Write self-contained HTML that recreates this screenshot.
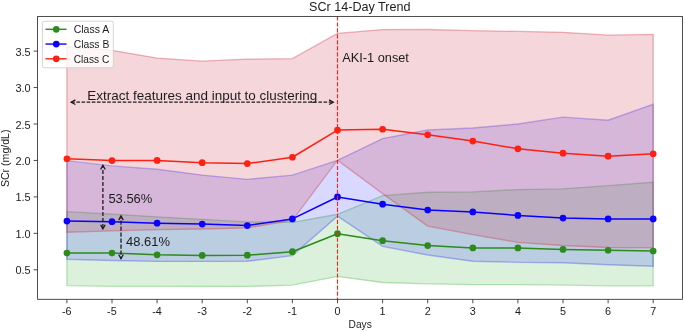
<!DOCTYPE html>
<html><head><meta charset="utf-8"><title>SCr 14-Day Trend</title>
<style>
html,body{margin:0;padding:0;background:#fff;}
body{width:685px;height:332px;overflow:hidden;}
svg{display:block;will-change:transform;}
text{font-family:"Liberation Sans",sans-serif;fill:#1c1c1c;}
</style></head><body>
<svg width="685" height="332" viewBox="0 0 685 332">
<rect x="0" y="0" width="685" height="332" fill="#ffffff"/>

<polygon points="66.90,211.63 112.00,214.03 157.10,216.80 202.20,219.28 247.30,221.90 292.40,222.27 337.50,214.25 382.60,195.66 427.70,192.23 472.80,191.94 517.90,189.61 563.00,188.81 608.10,185.67 653.20,182.32 653.20,285.84 608.10,285.84 563.00,285.11 517.90,284.67 472.80,284.67 427.70,283.87 382.60,282.48 337.50,276.43 292.40,285.11 247.30,286.42 202.20,286.49 157.10,286.35 112.00,286.35 66.90,285.62" fill="rgb(20,160,15)" fill-opacity="0.15" stroke="rgb(20,160,15)" stroke-opacity="0.28" stroke-width="1.3"/>
<polygon points="66.90,160.67 112.00,165.92 157.10,169.20 202.20,175.10 247.30,179.33 292.40,175.18 337.50,160.30 382.60,138.58 427.70,129.98 472.80,127.94 517.90,124.00 563.00,117.15 608.10,120.21 653.20,104.32 653.20,266.30 608.10,264.70 563.00,262.73 517.90,262.36 472.80,261.20 427.70,255.00 382.60,246.33 337.50,216.22 292.40,255.58 247.30,261.27 202.20,261.42 157.10,261.42 112.00,260.47 66.90,259.23" fill="rgb(0,0,255)" fill-opacity="0.15" stroke="rgb(0,0,255)" stroke-opacity="0.26" stroke-width="1.4"/>
<polygon points="66.90,46.73 112.00,50.37 157.10,58.03 202.20,61.16 247.30,59.12 292.40,58.68 337.50,33.46 382.60,29.59 427.70,29.52 472.80,30.69 517.90,31.42 563.00,32.29 608.10,35.21 653.20,34.41 653.20,247.93 608.10,247.49 563.00,245.52 517.90,242.39 472.80,234.59 427.70,226.06 382.60,193.62 337.50,160.23 292.40,220.37 247.30,227.88 202.20,228.98 157.10,229.70 112.00,230.80 66.90,232.26" fill="rgb(205,50,70)" fill-opacity="0.2" stroke="rgb(205,50,70)" stroke-opacity="0.36" stroke-width="1.3"/>
<polyline points="66.90,253.03 112.00,253.03 157.10,254.86 202.20,255.44 247.30,255.22 292.40,251.72 337.50,233.71 382.60,240.64 427.70,245.60 472.80,247.93 517.90,247.93 563.00,249.46 608.10,250.26 653.20,250.99" fill="none" stroke="#2C8B1C" stroke-width="1.5" stroke-linejoin="round"/>
<circle cx="66.90" cy="253.03" r="3.35" fill="#2C8B1C"/><circle cx="112.00" cy="253.03" r="3.35" fill="#2C8B1C"/><circle cx="157.10" cy="254.86" r="3.35" fill="#2C8B1C"/><circle cx="202.20" cy="255.44" r="3.35" fill="#2C8B1C"/><circle cx="247.30" cy="255.22" r="3.35" fill="#2C8B1C"/><circle cx="292.40" cy="251.72" r="3.35" fill="#2C8B1C"/><circle cx="337.50" cy="233.71" r="3.35" fill="#2C8B1C"/><circle cx="382.60" cy="240.64" r="3.35" fill="#2C8B1C"/><circle cx="427.70" cy="245.60" r="3.35" fill="#2C8B1C"/><circle cx="472.80" cy="247.93" r="3.35" fill="#2C8B1C"/><circle cx="517.90" cy="247.93" r="3.35" fill="#2C8B1C"/><circle cx="563.00" cy="249.46" r="3.35" fill="#2C8B1C"/><circle cx="608.10" cy="250.26" r="3.35" fill="#2C8B1C"/><circle cx="653.20" cy="250.99" r="3.35" fill="#2C8B1C"/>
<polyline points="66.90,221.10 112.00,221.69 157.10,223.22 202.20,224.09 247.30,225.55 292.40,218.92 337.50,196.97 382.60,204.19 427.70,210.02 472.80,211.92 517.90,215.42 563.00,218.11 608.10,218.92 653.20,218.92" fill="none" stroke="#0A00FF" stroke-width="1.5" stroke-linejoin="round"/>
<circle cx="66.90" cy="221.10" r="3.35" fill="#0A00FF"/><circle cx="112.00" cy="221.69" r="3.35" fill="#0A00FF"/><circle cx="157.10" cy="223.22" r="3.35" fill="#0A00FF"/><circle cx="202.20" cy="224.09" r="3.35" fill="#0A00FF"/><circle cx="247.30" cy="225.55" r="3.35" fill="#0A00FF"/><circle cx="292.40" cy="218.92" r="3.35" fill="#0A00FF"/><circle cx="337.50" cy="196.97" r="3.35" fill="#0A00FF"/><circle cx="382.60" cy="204.19" r="3.35" fill="#0A00FF"/><circle cx="427.70" cy="210.02" r="3.35" fill="#0A00FF"/><circle cx="472.80" cy="211.92" r="3.35" fill="#0A00FF"/><circle cx="517.90" cy="215.42" r="3.35" fill="#0A00FF"/><circle cx="563.00" cy="218.11" r="3.35" fill="#0A00FF"/><circle cx="608.10" cy="218.92" r="3.35" fill="#0A00FF"/><circle cx="653.20" cy="218.92" r="3.35" fill="#0A00FF"/>
<polyline points="66.90,158.77 112.00,160.60 157.10,160.45 202.20,162.71 247.30,163.58 292.40,157.24 337.50,130.12 382.60,129.25 427.70,134.79 472.80,141.06 517.90,148.79 563.00,153.16 608.10,156.15 653.20,153.82" fill="none" stroke="#FE2012" stroke-width="1.5" stroke-linejoin="round"/>
<circle cx="66.90" cy="158.77" r="3.35" fill="#FE2012"/><circle cx="112.00" cy="160.60" r="3.35" fill="#FE2012"/><circle cx="157.10" cy="160.45" r="3.35" fill="#FE2012"/><circle cx="202.20" cy="162.71" r="3.35" fill="#FE2012"/><circle cx="247.30" cy="163.58" r="3.35" fill="#FE2012"/><circle cx="292.40" cy="157.24" r="3.35" fill="#FE2012"/><circle cx="337.50" cy="130.12" r="3.35" fill="#FE2012"/><circle cx="382.60" cy="129.25" r="3.35" fill="#FE2012"/><circle cx="427.70" cy="134.79" r="3.35" fill="#FE2012"/><circle cx="472.80" cy="141.06" r="3.35" fill="#FE2012"/><circle cx="517.90" cy="148.79" r="3.35" fill="#FE2012"/><circle cx="563.00" cy="153.16" r="3.35" fill="#FE2012"/><circle cx="608.10" cy="156.15" r="3.35" fill="#FE2012"/><circle cx="653.20" cy="153.82" r="3.35" fill="#FE2012"/>
<line x1="337.5" y1="16.4" x2="337.5" y2="299.3" stroke="#FE2012" stroke-width="1.1" stroke-dasharray="4.17,1.81"/>
<line x1="71.2" y1="102.2" x2="333.3" y2="102.2" stroke="#1c1c1c" stroke-width="1.3" stroke-dasharray="3.6,1.55"/><path d="M75.4,99.9 L71.2,102.2 L75.4,104.5" fill="none" stroke="#1c1c1c" stroke-width="1.3" stroke-linejoin="miter"/><path d="M329.1,99.9 L333.3,102.2 L329.1,104.5" fill="none" stroke="#1c1c1c" stroke-width="1.3" stroke-linejoin="miter"/>
<line x1="102.9" y1="165.3" x2="102.9" y2="228.9" stroke="#1c1c1c" stroke-width="1.3" stroke-dasharray="4.2,1.8" stroke-dashoffset="1.4"/><path d="M100.60000000000001,169.5 L102.9,165.3 L105.2,169.5" fill="none" stroke="#1c1c1c" stroke-width="1.3" stroke-linejoin="miter"/><path d="M100.60000000000001,224.70000000000002 L102.9,228.9 L105.2,224.70000000000002" fill="none" stroke="#1c1c1c" stroke-width="1.3" stroke-linejoin="miter"/>
<line x1="121.0" y1="215.9" x2="121.0" y2="258.7" stroke="#1c1c1c" stroke-width="1.3" stroke-dasharray="4.2,1.8" stroke-dashoffset="1.4"/><path d="M118.7,220.1 L121.0,215.9 L123.3,220.1" fill="none" stroke="#1c1c1c" stroke-width="1.3" stroke-linejoin="miter"/><path d="M118.7,254.5 L121.0,258.7 L123.3,254.5" fill="none" stroke="#1c1c1c" stroke-width="1.3" stroke-linejoin="miter"/>
<text x="87.3" y="99.6" font-size="12.1" text-anchor="start" textLength="230" lengthAdjust="spacingAndGlyphs">Extract features and input to clustering</text>
<text x="342.3" y="61.7" font-size="12.1" text-anchor="start" textLength="66.6" lengthAdjust="spacingAndGlyphs">AKI-1 onset</text>
<text x="108.4" y="202.6" font-size="12.1" text-anchor="start" textLength="43.9" lengthAdjust="spacingAndGlyphs">53.56%</text>
<text x="126.1" y="246.0" font-size="12.1" text-anchor="start" textLength="43.9" lengthAdjust="spacingAndGlyphs">48.61%</text>
<text x="359.8" y="10.6" font-size="12.6" text-anchor="middle" textLength="101.5" lengthAdjust="spacingAndGlyphs">SCr 14-Day Trend</text>
<rect x="37.6" y="16.4" width="644.9" height="282.90000000000003" fill="none" stroke="#262626" stroke-width="0.82"/>
<line x1="66.90" y1="299.3" x2="66.90" y2="303.3" stroke="#262626" stroke-width="0.82"/>
<text x="66.80" y="314.8" font-size="10.8" text-anchor="middle">-6</text>
<line x1="112.00" y1="299.3" x2="112.00" y2="303.3" stroke="#262626" stroke-width="0.82"/>
<text x="111.90" y="314.8" font-size="10.8" text-anchor="middle">-5</text>
<line x1="157.10" y1="299.3" x2="157.10" y2="303.3" stroke="#262626" stroke-width="0.82"/>
<text x="157.00" y="314.8" font-size="10.8" text-anchor="middle">-4</text>
<line x1="202.20" y1="299.3" x2="202.20" y2="303.3" stroke="#262626" stroke-width="0.82"/>
<text x="202.10" y="314.8" font-size="10.8" text-anchor="middle">-3</text>
<line x1="247.30" y1="299.3" x2="247.30" y2="303.3" stroke="#262626" stroke-width="0.82"/>
<text x="247.20" y="314.8" font-size="10.8" text-anchor="middle">-2</text>
<line x1="292.40" y1="299.3" x2="292.40" y2="303.3" stroke="#262626" stroke-width="0.82"/>
<text x="292.30" y="314.8" font-size="10.8" text-anchor="middle">-1</text>
<line x1="337.50" y1="299.3" x2="337.50" y2="303.3" stroke="#262626" stroke-width="0.82"/>
<text x="337.50" y="314.8" font-size="10.8" text-anchor="middle">0</text>
<line x1="382.60" y1="299.3" x2="382.60" y2="303.3" stroke="#262626" stroke-width="0.82"/>
<text x="382.60" y="314.8" font-size="10.8" text-anchor="middle">1</text>
<line x1="427.70" y1="299.3" x2="427.70" y2="303.3" stroke="#262626" stroke-width="0.82"/>
<text x="427.70" y="314.8" font-size="10.8" text-anchor="middle">2</text>
<line x1="472.80" y1="299.3" x2="472.80" y2="303.3" stroke="#262626" stroke-width="0.82"/>
<text x="472.80" y="314.8" font-size="10.8" text-anchor="middle">3</text>
<line x1="517.90" y1="299.3" x2="517.90" y2="303.3" stroke="#262626" stroke-width="0.82"/>
<text x="517.90" y="314.8" font-size="10.8" text-anchor="middle">4</text>
<line x1="563.00" y1="299.3" x2="563.00" y2="303.3" stroke="#262626" stroke-width="0.82"/>
<text x="563.00" y="314.8" font-size="10.8" text-anchor="middle">5</text>
<line x1="608.10" y1="299.3" x2="608.10" y2="303.3" stroke="#262626" stroke-width="0.82"/>
<text x="608.10" y="314.8" font-size="10.8" text-anchor="middle">6</text>
<line x1="653.20" y1="299.3" x2="653.20" y2="303.3" stroke="#262626" stroke-width="0.82"/>
<text x="653.20" y="314.8" font-size="10.8" text-anchor="middle">7</text>
<line x1="33.6" y1="269.80" x2="37.6" y2="269.80" stroke="#262626" stroke-width="0.82"/>
<text x="30.7" y="274.30" font-size="10.8" text-anchor="end" textLength="15.2" lengthAdjust="spacingAndGlyphs">0.5</text>
<line x1="33.6" y1="233.35" x2="37.6" y2="233.35" stroke="#262626" stroke-width="0.82"/>
<text x="30.7" y="237.85" font-size="10.8" text-anchor="end" textLength="15.2" lengthAdjust="spacingAndGlyphs">1.0</text>
<line x1="33.6" y1="196.90" x2="37.6" y2="196.90" stroke="#262626" stroke-width="0.82"/>
<text x="30.7" y="201.40" font-size="10.8" text-anchor="end" textLength="15.2" lengthAdjust="spacingAndGlyphs">1.5</text>
<line x1="33.6" y1="160.45" x2="37.6" y2="160.45" stroke="#262626" stroke-width="0.82"/>
<text x="30.7" y="164.95" font-size="10.8" text-anchor="end" textLength="15.2" lengthAdjust="spacingAndGlyphs">2.0</text>
<line x1="33.6" y1="124.00" x2="37.6" y2="124.00" stroke="#262626" stroke-width="0.82"/>
<text x="30.7" y="128.50" font-size="10.8" text-anchor="end" textLength="15.2" lengthAdjust="spacingAndGlyphs">2.5</text>
<line x1="33.6" y1="87.55" x2="37.6" y2="87.55" stroke="#262626" stroke-width="0.82"/>
<text x="30.7" y="92.05" font-size="10.8" text-anchor="end" textLength="15.2" lengthAdjust="spacingAndGlyphs">3.0</text>
<line x1="33.6" y1="51.10" x2="37.6" y2="51.10" stroke="#262626" stroke-width="0.82"/>
<text x="30.7" y="55.60" font-size="10.8" text-anchor="end" textLength="15.2" lengthAdjust="spacingAndGlyphs">3.5</text>
<text x="360.2" y="327.9" font-size="10.8" text-anchor="middle" textLength="23.2" lengthAdjust="spacingAndGlyphs">Days</text>
<text x="0" y="0" font-size="10.8" text-anchor="middle" textLength="57.5" lengthAdjust="spacingAndGlyphs" transform="translate(9.3,158.3) rotate(-90)">SCr (mg/dL)</text>
<rect x="42.4" y="21.2" width="70.9" height="46.6" rx="2" ry="2" fill="#ffffff" fill-opacity="0.8" stroke="#cccccc" stroke-width="0.85"/>
<line x1="45.5" y1="29.3" x2="66.5" y2="29.3" stroke="#2C8B1C" stroke-width="1.4"/>
<circle cx="56.25" cy="29.3" r="3.35" fill="#2C8B1C"/>
<text x="73.7" y="33.1" font-size="10.8" text-anchor="start" textLength="35.6" lengthAdjust="spacingAndGlyphs">Class A</text>
<line x1="45.5" y1="44.05" x2="66.5" y2="44.05" stroke="#0A00FF" stroke-width="1.4"/>
<circle cx="56.25" cy="44.05" r="3.35" fill="#0A00FF"/>
<text x="73.7" y="47.849999999999994" font-size="10.8" text-anchor="start" textLength="35.6" lengthAdjust="spacingAndGlyphs">Class B</text>
<line x1="45.5" y1="58.8" x2="66.5" y2="58.8" stroke="#FE2012" stroke-width="1.4"/>
<circle cx="56.25" cy="58.8" r="3.35" fill="#FE2012"/>
<text x="73.7" y="62.599999999999994" font-size="10.8" text-anchor="start" textLength="35.6" lengthAdjust="spacingAndGlyphs">Class C</text>
</svg></body></html>
